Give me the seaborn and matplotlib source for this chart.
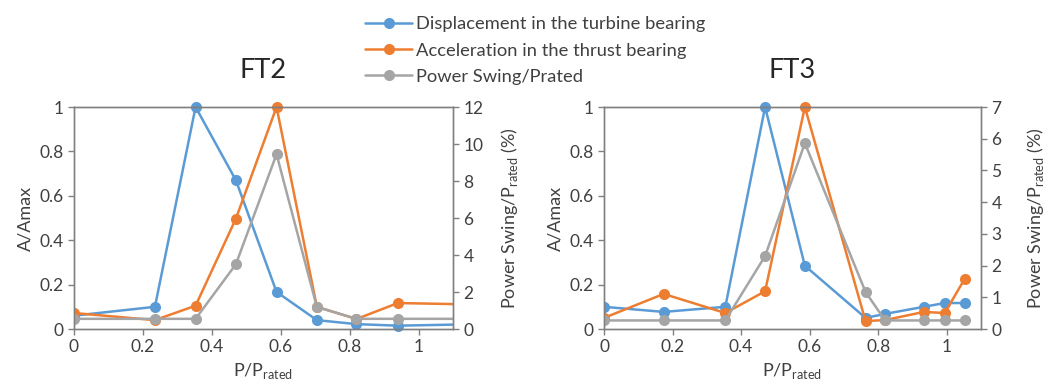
import matplotlib
matplotlib.use("Agg")
import matplotlib.pyplot as plt
import seaborn as sns
import pandas as pd
from matplotlib.ticker import FuncFormatter
from matplotlib.transforms import Bbox, TransformedBbox

# FT2 (last point lies outside the x range and is clipped, as in the source)
ft2_x = [0, 0.235, 0.353, 0.47, 0.588, 0.705, 0.82, 0.94, 1.176]
ft2_disp = [0.06, 0.10, 1.0, 0.67, 0.167, 0.04, 0.022, 0.015, 0.022]
ft2_acc = [0.072, 0.04, 0.105, 0.497, 1.0, 0.10, 0.045, 0.117, 0.11]
ft2_swing = [0.55, 0.55, 0.55, 3.5, 9.45, 1.19, 0.55, 0.55, 0.55]

# FT3
ft3_x = [0, 0.174, 0.354, 0.47, 0.586, 0.763, 0.82, 0.933, 0.994, 1.052]
ft3_disp = [0.10, 0.077, 0.10, 1.0, 0.285, 0.05, 0.068, 0.10, 0.117, 0.117]
ft3_acc = [0.05, 0.158, 0.072, 0.17, 1.0, 0.036, 0.04, 0.077, 0.072, 0.225]
ft3_swing = [0.27, 0.27, 0.27, 2.3, 5.86, 1.17, 0.27, 0.27, 0.27, 0.27]

labels = ["Displacement in the turbine bearing",
          "Acceleration in the thrust bearing",
          "Power Swing/Prated"]
colors = ["#5B9BD5", "#ED7D31", "#A5A5A5"]

sns.set_style("white")
plt.rcParams["font.family"] = ["Lato", "DejaVu Sans"]
plt.rcParams["mathtext.fontset"] = "custom"
plt.rcParams["mathtext.rm"] = "Lato"

fig = plt.figure(figsize=(10.49, 3.9), dpi=100)
ax1 = fig.add_axes([0.0705, 0.1564, 0.3613, 0.5692])
ax2 = fig.add_axes([0.5758, 0.1564, 0.3594, 0.5692])

fmt = FuncFormatter(lambda v, p: f"{v:g}")
axis_col = "#808080"
text_col = "#404040"


def unclip_vertically(ax):
    # clip only at the left/right edges so markers at 0 and 1 stay whole
    box = TransformedBbox(Bbox([[0, -0.1], [1, 1.1]]), ax.transAxes)
    for ln in ax.lines:
        ln.set_clip_box(box)


def panel(ax, x, disp, acc, swing, ymax2, title, rpad):
    df = pd.DataFrame({"x": x, "disp": disp, "acc": acc, "swing": swing})
    sns.lineplot(data=df, x="x", y="disp", ax=ax, color=colors[0], marker="o",
                 markersize=8, markeredgewidth=0, linewidth=1.8, label=labels[0])
    sns.lineplot(data=df, x="x", y="acc", ax=ax, color=colors[1], marker="o",
                 markersize=8, markeredgewidth=0, linewidth=1.8, label=labels[1])
    ax.set_xlim(0, 1.1)
    ax.set_ylim(0, 1)
    ax.set_xticks([0, 0.2, 0.4, 0.6, 0.8, 1])
    ax.set_yticks([0, 0.2, 0.4, 0.6, 0.8, 1])
    ax.xaxis.set_major_formatter(fmt)
    ax.yaxis.set_major_formatter(fmt)
    ax.set_xlabel(r"P/P$_{\mathregular{rated}}$", fontsize=13, color=text_col)
    ax.set_ylabel("A/Amax", fontsize=13, color=text_col)
    ax.set_title(title, fontsize=19.5, pad=21)

    axr = ax.twinx()
    sns.lineplot(data=df, x="x", y="swing", ax=axr, color=colors[2], marker="o",
                 markersize=8, markeredgewidth=0, linewidth=1.8, label=labels[2])
    axr.set_ylim(0, ymax2)
    axr.set_xlim(0, 1.1)
    axr.set_ylabel(r"Power Swing/P$_{\mathregular{rated}}$ (%)", fontsize=13,
                   color=text_col, labelpad=rpad)
    axr.yaxis.set_major_formatter(fmt)

    for a in (ax, axr):
        for s in a.spines.values():
            s.set_color(axis_col)
            s.set_linewidth(1)
        a.tick_params(colors=text_col, labelsize=12.5, length=4, width=1,
                      color=axis_col, direction="out")
        unclip_vertically(a)
    ax.tick_params(axis="x", bottom=True)
    ax.tick_params(axis="y", left=True)
    axr.tick_params(axis="y", right=True)
    ax.get_legend().remove()
    axr.get_legend().remove()
    return axr


axr1 = panel(ax1, ft2_x, ft2_disp, ft2_acc, ft2_swing, 12, "FT2", 11)
axr1.set_yticks(range(0, 13, 2))
axr2 = panel(ax2, ft3_x, ft3_disp, ft3_acc, ft3_swing, 7, "FT3", 17)
axr2.set_yticks(range(0, 8))

h1, l1 = ax1.get_legend_handles_labels()
h2, l2 = axr1.get_legend_handles_labels()
fig.legend(h1 + h2, l1 + l2, loc="upper center", bbox_to_anchor=(0.51, 1.0),
           frameon=False, fontsize=13.2, handlelength=2.6, labelspacing=0.55,
           handletextpad=0.2, labelcolor=text_col)

fig.savefig("out.png", dpi=100)
